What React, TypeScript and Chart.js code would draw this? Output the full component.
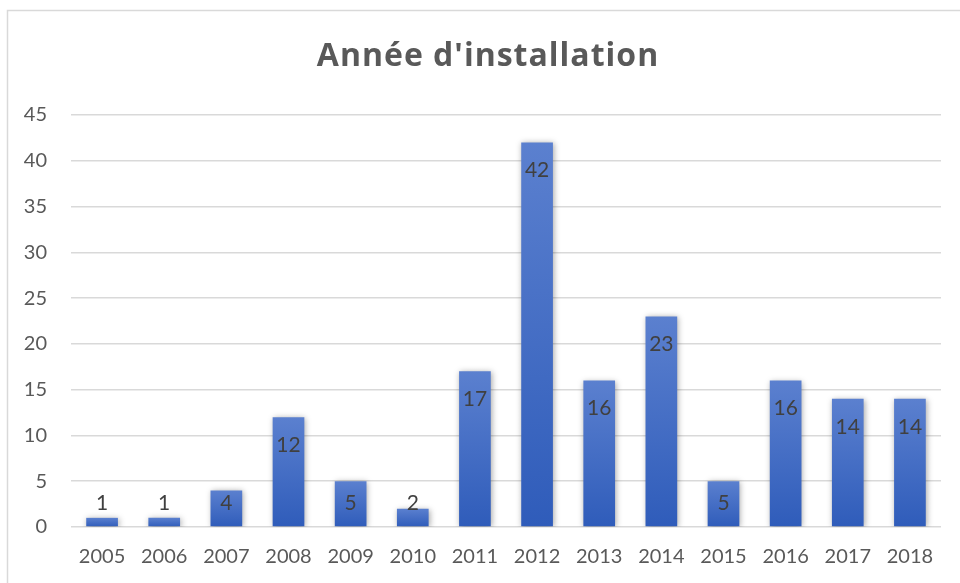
import React, { useEffect, useRef } from "react";
import { Chart, registerables } from "chart.js";

Chart.register(...registerables);

const categories = ["2005", "2006", "2007", "2008", "2009", "2010", "2011", "2012", "2013", "2014", "2015", "2016", "2017", "2018"];
const counts = [1, 1, 4, 12, 5, 2, 17, 42, 16, 23, 5, 16, 14, 14];
const titleText = "Année d'installation";
const yMax = 45;
const yStep = 5;

const FONT = "Lato, 'Open Sans', sans-serif";
const TITLE_FONT = "'Open Sans', 'Noto Sans', sans-serif";

const framePlugin = {
  id: "frame",
  beforeDraw(chart: any) {
    const ctx = chart.ctx;
    ctx.save();
    ctx.fillStyle = "#ffffff";
    ctx.fillRect(0, 0, chart.width, chart.height);
    ctx.strokeStyle = "#d9d9d9";
    ctx.lineWidth = 1.5;
    ctx.strokeRect(7.5, 10.5, chart.width + 20, chart.height + 20);
    ctx.fillStyle = "#595959";
    ctx.font = "bold 32px " + TITLE_FONT;
    try {
      (ctx as any).letterSpacing = "1px";
    } catch (e) {}
    ctx.textAlign = "center";
    ctx.textBaseline = "alphabetic";
    ctx.fillText(titleText, 488, 66);
    try {
      (ctx as any).letterSpacing = "0px";
    } catch (e) {}
    ctx.restore();
  },
  beforeDatasetsDraw(chart: any) {
    const ctx = chart.ctx;
    ctx.save();
    ctx.shadowColor = "rgba(0,0,0,0.35)";
    ctx.shadowBlur = 6;
    ctx.shadowOffsetX = 1;
    ctx.shadowOffsetY = 1;
  },
  afterDatasetsDraw(chart: any) {
    const ctx = chart.ctx;
    ctx.restore();
    const meta = chart.getDatasetMeta(0);
    const zeroY = chart.scales.y.getPixelForValue(0);
    ctx.save();
    ctx.fillStyle = "#404040";
    ctx.font = "21px " + FONT;
    ctx.textAlign = "center";
    ctx.textBaseline = "middle";
    meta.data.forEach((bar: any, i: number) => {
      const y = Math.min(bar.y + 28, zeroY - 24);
      ctx.fillText(String(counts[i]), bar.x, y);
    });
    ctx.restore();
  },
};

export default function App() {
  const ref = useRef<HTMLCanvasElement | null>(null);

  useEffect(() => {
    if (!ref.current) return;
    const chart = new Chart(ref.current, {
      type: "bar",
      data: {
        labels: categories,
        datasets: [
          {
            data: counts,
            barPercentage: 0.51,
            categoryPercentage: 1,
            backgroundColor: (c: any) => {
              const ch = c.chart;
              if (!ch.chartArea || !ch.scales || !ch.scales.y || c.raw === undefined) return "#4472c4";
              const top = ch.scales.y.getPixelForValue(c.raw);
              const bottom = ch.scales.y.getPixelForValue(0);
              if (!isFinite(top) || !isFinite(bottom) || top === bottom) return "#4472c4";
              const g = ch.ctx.createLinearGradient(0, top, 0, bottom);
              g.addColorStop(0, "#5b80cf");
              g.addColorStop(1, "#2f5cba");
              return g;
            },
            borderWidth: 0,
          },
        ],
      },
      options: {
        animation: false,
        responsive: false,
        maintainAspectRatio: false,
        layout: { padding: { left: 0, right: 19, top: 115, bottom: 0 } },
        plugins: {
          legend: { display: false },
          title: { display: false },
          tooltip: { enabled: false },
        },
        scales: {
          x: {
            grid: { display: false, drawTicks: false },
            border: { display: false },
            ticks: { color: "#595959", font: { family: FONT, size: 20 }, padding: 18, maxRotation: 0 },
            afterFit: (s: any) => {
              s.height = 56;
            },
          },
          y: {
            min: 0,
            max: yMax,
            grid: { color: "#d9d9d9", lineWidth: 1.5, drawTicks: false },
            border: { display: false },
            ticks: { stepSize: yStep, color: "#595959", font: { family: FONT, size: 20 }, padding: 24 },
            afterFit: (s: any) => {
              s.width = 71;
            },
          },
        },
      },
      plugins: [framePlugin],
    });
    return () => chart.destroy();
  }, []);

  return (
    <div style={{ position: "fixed", left: 0, top: 0, width: 960, height: 583, background: "#fff" }}>
      <canvas ref={ref} width={960} height={583} style={{ width: 960, height: 583, display: "block" }} />
    </div>
  );
}
